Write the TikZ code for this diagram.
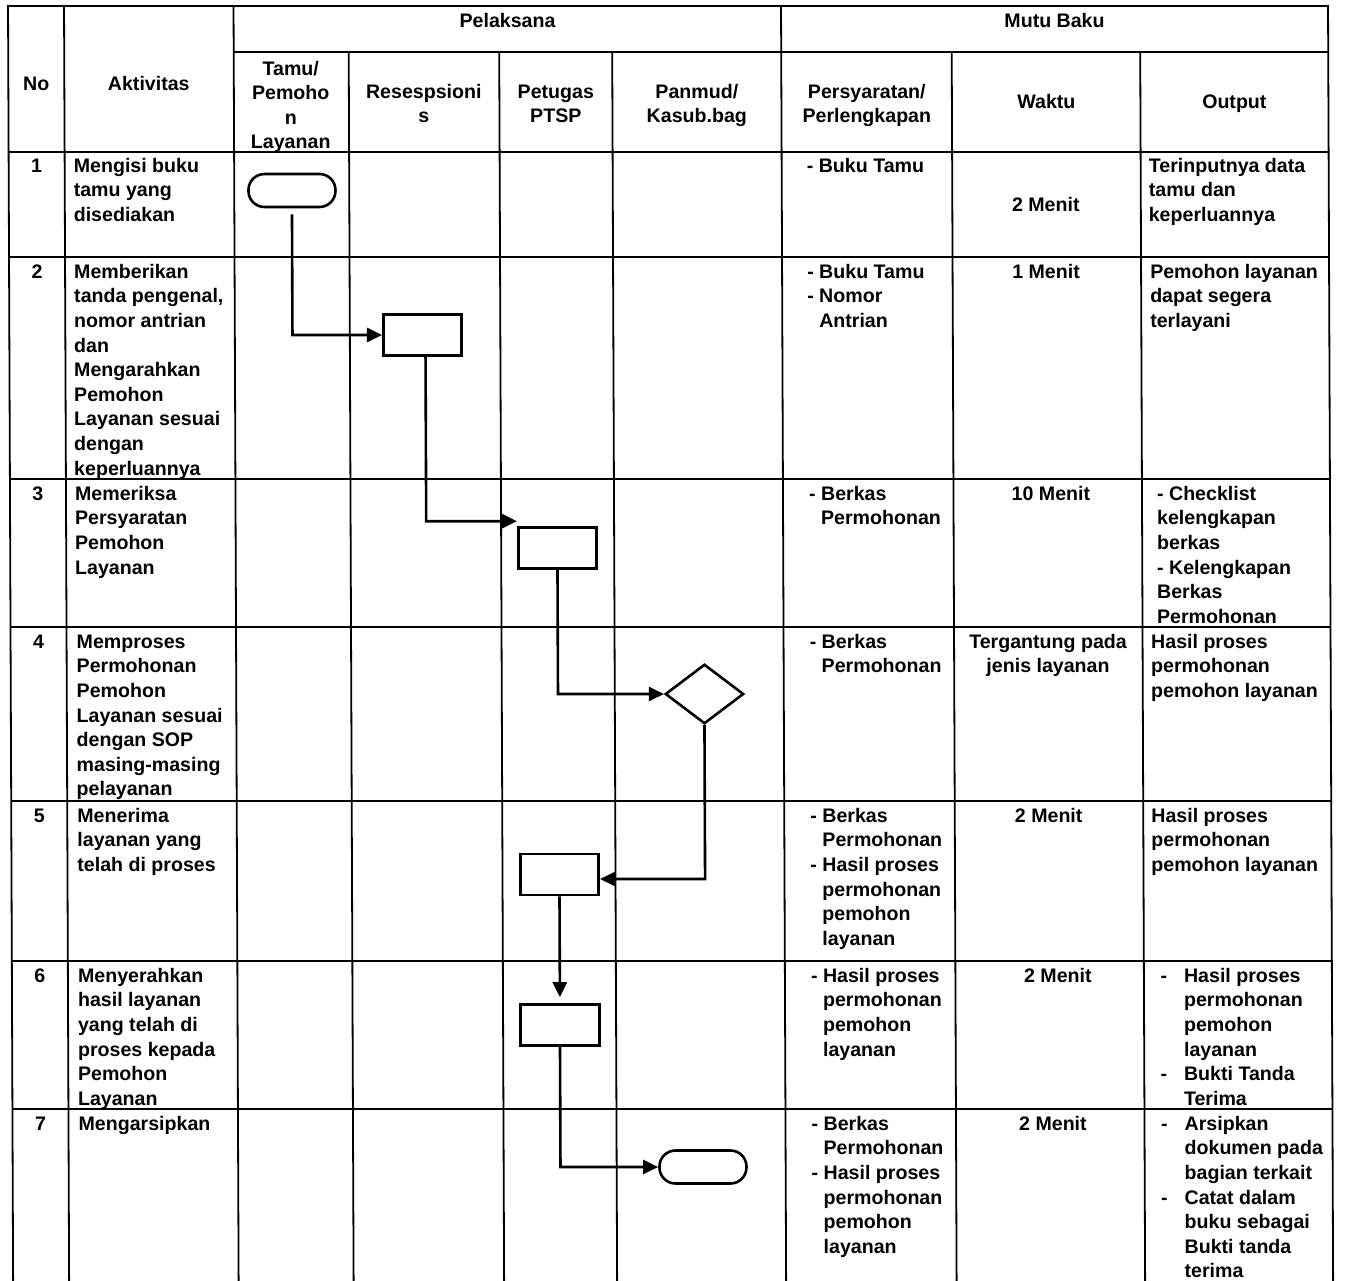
\documentclass[tikz,border=0pt]{standalone}
\usepackage{fontspec}
\setmainfont{Liberation Sans}
\usetikzlibrary{arrows.meta,shapes.geometric}
\newcommand\fs{\rule{0pt}{16pt}}
\begin{document}
\begin{tikzpicture}[x=1pt,y=-1pt,
  grid/.style={line width=1.8pt},
  tx/.style={inner sep=0pt, anchor=north west, align=left, font=\bfseries\fontsize{19.6pt}{24.6pt}\selectfont},
  cx/.style={tx, anchor=north, align=center},
  shp/.style={draw, line width=2.6pt, inner sep=0pt},
  term/.style={shp, rectangle, rounded corners=16pt, minimum width=87pt, minimum height=33pt},
  proc/.style={shp, rectangle, minimum width=78.5pt, minimum height=41pt},
  dec/.style={shp, diamond, minimum width=78.5pt, minimum height=59.5pt},
  flow/.style={line width=2.6pt, -{Triangle[length=15pt,width=14pt]}}
]
\fill[white] (0,0) rectangle (1345,1281);
\useasboundingbox (0,0) rectangle (1345,1281);
\begin{scope}[xslant=-0.004]
% ---------- table grid ----------
\draw[grid] (8,1295) -- (8,6) -- (1328,6) -- (1328,1295);
\foreach \x in {64,233.5,781} \draw[grid] (\x,6) -- (\x,1295);
\foreach \x in {348.5,499,612,951.5,1140} \draw[grid] (\x,52) -- (\x,1295);
\draw[grid] (233.5,52) -- (1328,52);
\foreach \y in {152,257,479,627,801,961,1109} \draw[grid] (8,\y) -- (1328,\y);
% ---------- header ----------
\node[cx] (hPel) at (507.5,27-16) {\fs Pelaksana};
\node[cx] (hMutu) at (1054.5,27-16) {\fs Mutu Baku};
\node[cx] (hNo) at (36,90-16) {\fs No};
\node[cx] (hAkt) at (148.5,90-16) {\fs Aktivitas};
\node[cx] (hTamu) at (290.5,75-16) {\fs Tamu/\\Pemoho\\n\\Layanan};
\node[cx] (hRes) at (423.5,98-16) {\fs Resespsioni\\s};
\node[cx] (hPet) at (555.5,98-16) {\fs Petugas\\PTSP};
\node[cx] (hPan) at (696.5,98-16) {\fs Panmud/\\Kasub.bag};
\node[cx] (hPer) at (866.5,98-16) {\fs Persyaratan/\\Perlengkapan};
\node[cx] (hWak) at (1046,108-16) {\fs Waktu};
\node[cx] (hOut) at (1234,108-16) {\fs Output};
% ---------- numbers ----------
\node[cx] (n1) at (36,172-16) {\fs 1};
\node[cx] (n2) at (36,278-16) {\fs 2};
\node[cx] (n3) at (36,500-16) {\fs 3};
\node[cx] (n4) at (36,648-16) {\fs 4};
\node[cx] (n5) at (36,822-16) {\fs 5};
\node[cx] (n6) at (36,982-16) {\fs 6};
\node[cx] (n7) at (36,1130-16) {\fs 7};
% ---------- row 1 ----------
\node[tx] (a1) at (73,172-16) {\fs Mengisi buku\\tamu yang\\disediakan};
\node[tx] (p1) at (818,172-16) {\fs \llap{- }Buku Tamu};
\node[cx] (w1) at (1045,211-16) {\fs 2 Menit};
\node[tx] (o1) at (1148,172-16) {\fs Terinputnya data\\tamu dan\\keperluannya};
% ---------- row 2 ----------
\node[tx] (a2) at (73,278-16) {\fs Memberikan\\tanda pengenal,\\nomor antrian\\dan\\Mengarahkan\\Pemohon\\Layanan sesuai\\dengan\\keperluannya};
\node[tx] (p2) at (818,278-16) {\fs \llap{- }Buku Tamu\\\llap{- }Nomor\\Antrian};
\node[cx] (w2) at (1045,278-16) {\fs 1 Menit};
\node[tx] (o2) at (1149,278-16) {\fs Pemohon layanan\\dapat segera\\terlayani};
% ---------- row 3 ----------
\node[tx] (a3) at (73,500-16) {\fs Memeriksa\\Persyaratan\\Pemohon\\Layanan};
\node[tx] (p3) at (819,500-16) {\fs \llap{- }Berkas\\Permohonan};
\node[cx] (w3) at (1049,500-16) {\fs 10 Menit};
\node[tx] (o3) at (1155,500-16) {\fs - Checklist\\kelengkapan\\berkas\\- Kelengkapan\\Berkas\\Permohonan};
% ---------- row 4 ----------
\node[tx] (a4) at (74,648-16) {\fs Memproses\\Permohonan\\Pemohon\\Layanan sesuai\\dengan SOP\\masing-masing\\pelayanan};
\node[tx] (p4) at (819,648-16) {\fs \llap{- }Berkas\\Permohonan};
\node[cx] (w4) at (1045.5,648-16) {\fs Tergantung pada\\jenis layanan};
\node[tx] (o4) at (1148.5,648-16) {\fs Hasil proses\\permohonan\\pemohon layanan};
% ---------- row 5 ----------
\node[tx] (a5) at (74,822-16) {\fs Menerima\\layanan yang\\telah di proses};
\node[tx] (p5) at (819,822-16) {\fs \llap{- }Berkas\\Permohonan\\\llap{- }Hasil proses\\permohonan\\pemohon\\layanan};
\node[cx] (w5) at (1045.5,822-16) {\fs 2 Menit};
\node[tx] (o5) at (1148,822-16) {\fs Hasil proses\\permohonan\\pemohon layanan};
% ---------- row 6 ----------
\node[tx] (a6) at (74,982-16) {\fs Menyerahkan\\hasil layanan\\yang telah di\\proses kepada\\Pemohon\\Layanan};
\node[tx] (p6) at (819,982-16) {\fs \llap{- }Hasil proses\\permohonan\\pemohon\\layanan};
\node[cx] (w6) at (1054,982-16) {\fs 2 Menit};
\node[tx] (o6) at (1180,982-16) {\fs \llap{-\hspace{17pt}}Hasil proses\\permohonan\\pemohon\\layanan\\\llap{-\hspace{17pt}}Bukti Tanda\\Terima};
% ---------- row 7 ----------
\node[tx] (a7) at (74,1130-16) {\fs Mengarsipkan};
\node[tx] (p7) at (819,1130-16) {\fs \llap{- }Berkas\\Permohonan\\\llap{- }Hasil proses\\permohonan\\pemohon\\layanan};
\node[cx] (w7) at (1048.5,1130-16) {\fs 2 Menit};
\node[tx] (o7) at (1180,1130-16) {\fs \llap{-\hspace{17pt}}Arsipkan\\dokumen pada\\bagian terkait\\\llap{-\hspace{17pt}}Catat dalam\\buku sebagai\\Bukti tanda\\terima};
% ---------- flow shapes ----------
\node[term] (t1) at (291.2,190.5) {};
\node[proc] (b2) at (421.2,335) {};
\node[proc] (b3) at (555.3,548) {};
\node[dec]  (d4) at (701.7,694) {};
\node[proc] (b5) at (556,874.5) {};
\node[proc] (b6) at (555.9,1025) {};
\node[term] (t7) at (698.3,1167) {};
% ---------- connectors ----------
\draw[flow] ([yshift=-6pt]t1.south) |- (b2.west);
\draw[flow] ([xshift=3pt]b2.south) |- ([yshift=5pt]b3.north west);
\draw[flow] (b3.south) |- (d4.west);
\draw[flow] (d4.south) |- ([yshift=-4.5pt]b5.east);
\draw[flow, shorten >=6pt] (b5.south) -- (b5.south |- b6.north);
\draw[flow] (b6.south) |- (t7.west);
\end{scope}
\end{tikzpicture}
\end{document}
